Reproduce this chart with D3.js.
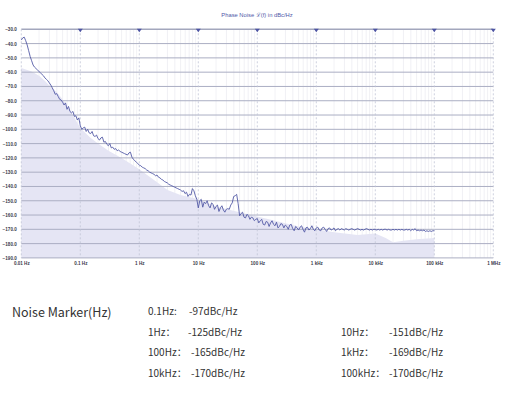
<!DOCTYPE html>
<html>
<head>
<meta charset="utf-8">
<script src="https://cdn.jsdelivr.net/npm/d3@7"></script>
<style>
  body { margin: 0; background: #fff; }
  svg { display: block; }
</style>
</head>
<body>
<script>
'use strict';

// measured trace, sampled every 1/40 decade starting at 0.01 Hz
let traceStartHz = 0.01;
let tracePointsPerDecade = 40;
let traceDb = [
  -37.5, -36, -35.5, -38, -41, -45, -49, -52, -55, -56.5,
  -57.5, -58.5, -59.5, -60.5, -61.5, -62.5, -64, -65, -66, -67.5,
  -69, -71, -73, -75.5, -75, -77, -79, -79.5, -81, -83,
  -81.5, -86, -84, -87.5, -88.5, -87.5, -91, -90.5, -93.5, -92,
  -97.5, -100, -99, -98.5, -101.5, -100, -102.5, -103, -101.5, -104.5,
  -105, -104, -106.5, -107.5, -106, -105.5, -109, -108.5, -110.5, -111.5,
  -110, -113, -112.5, -114, -113.5, -115, -114.5, -115.5, -116, -116.5,
  -117, -117.5, -118, -116.5, -116, -119.5, -121, -122, -123, -124,
  -125, -125.5, -126.5, -127, -127.5, -128.5, -129, -130, -130.5, -131,
  -131.5, -132.5, -132, -133.5, -134, -135, -135.5, -136.5, -137, -137.5,
  -138.5, -139, -139.5, -140, -140.5, -141, -141.5, -142, -142.5, -143.5,
  -143, -145, -144, -147, -145.5, -146, -141.5, -143, -146.5, -149,
  -155, -150, -149, -154.5, -151, -152, -150, -153.5, -155, -151.5,
  -152.5, -156, -154, -153, -157.5, -155, -153.5, -156.5, -158, -156,
  -155.5, -156, -153, -151.5, -147, -146.5, -145.5, -152, -160.5, -159,
  -158, -161.5, -162, -159.5, -160.5, -163, -161.5, -162, -164, -163,
  -162.5, -165.5, -164, -163, -166.5, -167, -164.5, -165, -168, -165.5,
  -164, -166.5, -167.5, -165, -169, -168, -166, -166.5, -169, -167,
  -168, -170, -167, -166.5, -169.5, -171, -168, -169, -170.5, -168.5,
  -167.5, -170, -172, -169, -168.5, -170.5, -169.5, -167.5, -170, -171,
  -169, -168.5, -170.5, -171, -169, -168.5, -170, -171.5, -169.5, -169,
  -170.5, -170, -169, -171, -170, -169.5, -170.5, -169.5, -170, -170.5,
  -169.5, -170, -170.5, -170, -169.5, -170, -170.5, -170, -169.5, -170,
  -170.5, -170, -170.5, -170, -169.5, -170, -170.5, -170, -170.5, -170,
  -170, -170.5, -170, -170.5, -170, -170.5, -170, -170, -170.5, -170,
  -170.5, -170.5, -170, -170.5, -170, -170.5, -170, -170.5, -170, -170.5,
  -170.5, -170, -170.5, -170, -171, -170, -170.5, -169.5, -171, -170.5,
  -171, -170.5, -171, -170.5, -171.5, -171, -171.5, -171, -171.5, -171,
  -171
];

// shaded reference curve
let maskHz = [0.01, 0.015, 0.02, 0.025, 0.03, 0.04, 0.05, 0.07, 0.1, 0.15, 0.2, 0.3, 0.5, 1,
  2, 3, 5, 10, 20, 50, 100, 200, 500, 1000, 2000, 5000, 10000, 15000, 20000, 30000, 50000, 100000];
let maskDb = [-57, -59.5, -62.5, -66, -69.5, -74, -79, -88, -99, -106, -110, -115, -120, -128,
  -137, -142.5, -146, -149, -154, -158, -161, -164, -168, -170, -172, -174, -173, -176, -179, -178, -177, -176];

let yTicks = [-30, -40, -50, -60, -70, -80, -90, -100, -110, -120, -130, -140, -150, -160, -170, -180, -190];
let decadeHz = [0.01, 0.1, 1, 10, 100, 1000, 10000, 100000, 1000000];
let decadeLabels = ['0.01 Hz', '0.1 Hz', '1 Hz', '10 Hz', '100 Hz', '1 kHz', '10 kHz', '100 kHz', '1 MHz'];

let markerFreq = ['0.1Hz:', '1Hz\uff1a', '100Hz\uff1a', '10kHz\uff1a', '10Hz\uff1a', '1kHz\uff1a', '100kHz\uff1a'];
let markerValue = ['-97dBc/Hz', '-125dBc/Hz', '-165dBc/Hz', '-170dBc/Hz', '-151dBc/Hz', '-169dBc/Hz', '-170dBc/Hz'];

let width = 510;
let height = 393;

let svg = d3.select('body').append('svg')
  .attr('width', width)
  .attr('height', height);

let xScale = d3.scaleLog().domain([0.01, 1e6]).range([21.3, 493.3]);
let yScale = d3.scaleLinear().domain([-190, -30]).range([257.9, 29.3]);

makeGrid();
makeTraces();
makeAxes();
makeMarkers();

function makeGrid() {
  let minor = [];
  for (let k = 0; k < decadeHz.length - 1; k++) {
    for (let m = 2; m <= 9; m++) minor.push(decadeHz[k] * m);
  }
  svg.append('g').selectAll('line')
    .data(minor).enter().append('line')
    .attr('x1', d => xScale(d)).attr('x2', d => xScale(d))
    .attr('y1', yScale(-30)).attr('y2', yScale(-190))
    .attr('stroke', '#ededf3').attr('stroke-width', 0.8);
}

function makeTraces() {
  let area = d3.area()
    .x((d, i) => xScale(maskHz[i]))
    .y0(yScale(-190))
    .y1(d => yScale(d));
  svg.append('path')
    .datum(maskDb)
    .attr('d', area)
    .attr('fill', '#e5e5f4');

  // horizontal grid over the shading
  svg.append('g').selectAll('line')
    .data(yTicks).enter().append('line')
    .attr('x1', xScale(0.01)).attr('x2', xScale(1e6))
    .attr('y1', d => yScale(d)).attr('y2', d => yScale(d))
    .attr('stroke', d => d === -30 ? '#a3a7bd' : '#abaec3')
    .attr('stroke-width', d => d === -30 ? 1.6 : 1);

  svg.append('g').selectAll('line')
    .data(decadeHz).enter().append('line')
    .attr('x1', d => xScale(d)).attr('x2', d => xScale(d))
    .attr('y1', yScale(-30)).attr('y2', yScale(-190))
    .attr('stroke', '#c2c5d7').attr('stroke-width', 0.8)
    .attr('stroke-dasharray', '2,2');

  let line = d3.line()
    .x((d, i) => xScale(traceStartHz * Math.pow(10, i / tracePointsPerDecade)))
    .y(d => yScale(d));
  svg.append('path')
    .datum(traceDb)
    .attr('d', line)
    .attr('fill', 'none')
    .attr('stroke', '#535aa6')
    .attr('stroke-width', 0.9);
}

function makeAxes() {
  let yAxis = d3.axisLeft(yScale)
    .tickValues(yTicks)
    .tickSize(0)
    .tickPadding(4.5)
    .tickFormat(d3.format('.1f'));
  let gy = svg.append('g')
    .attr('transform', 'translate(' + xScale(0.01) + ',0)')
    .call(yAxis);
  gy.select('.domain').remove();
  gy.selectAll('text')
    .style('font', 'bold 4.6px "Liberation Sans", Arial, sans-serif')
    .attr('fill', '#3a3a4a');

  let xAxis = d3.axisBottom(xScale)
    .tickValues(decadeHz)
    .tickSize(0)
    .tickPadding(3.5)
    .tickFormat((d, i) => decadeLabels[i]);
  let gx = svg.append('g')
    .attr('transform', 'translate(0,' + yScale(-190) + ')')
    .call(xAxis);
  gx.select('.domain').remove();
  gx.selectAll('text')
    .style('font', 'bold 4.6px "Liberation Sans", Arial, sans-serif')
    .attr('fill', '#3a3a4a');

  svg.append('text')
    .attr('x', 257)
    .attr('y', 17)
    .attr('text-anchor', 'middle')
    .style('font', '5.8px "Liberation Sans", Arial, sans-serif')
    .attr('fill', '#4f58a8')
    .text('Phase Noise \u2112(f) in dBc/Hz');

  // downward markers on the top border
  svg.append('g').selectAll('path')
    .data(decadeHz.slice(1)).enter().append('path')
    .attr('d', d => {
      let x = xScale(d), y = yScale(-30);
      return 'M' + (x - 2.5) + ',' + (y - 0.5) + 'L' + (x + 2.5) + ',' + (y - 0.5) + 'L' + x + ',' + (y + 3) + 'Z';
    })
    .attr('fill', '#4d54a3');
}

function makeMarkers() {
  let font = '"Noto Sans CJK SC", "Noto Sans", sans-serif';
  svg.append('text')
    .attr('x', 12)
    .attr('y', 317)
    .style('font', '12.5px ' + font)
    .attr('fill', '#333')
    .text('Noise Marker(Hz)');

  let rowsY = [315, 336, 356, 377, 336, 356, 377];
  let labelX = [148, 148, 148, 148, 341, 341, 341];
  let valueX = [189, 188, 191, 191, 389, 389, 389];
  let g = svg.append('g');
  markerFreq.forEach((f, i) => {
    g.append('text')
      .attr('x', labelX[i]).attr('y', rowsY[i])
      .style('font', '10px ' + font)
      .attr('fill', '#333')
      .text(f);
    g.append('text')
      .attr('x', valueX[i]).attr('y', rowsY[i])
      .style('font', '10px ' + font)
      .attr('fill', '#333')
      .text(markerValue[i]);
  });
}
</script>
</body>
</html>
